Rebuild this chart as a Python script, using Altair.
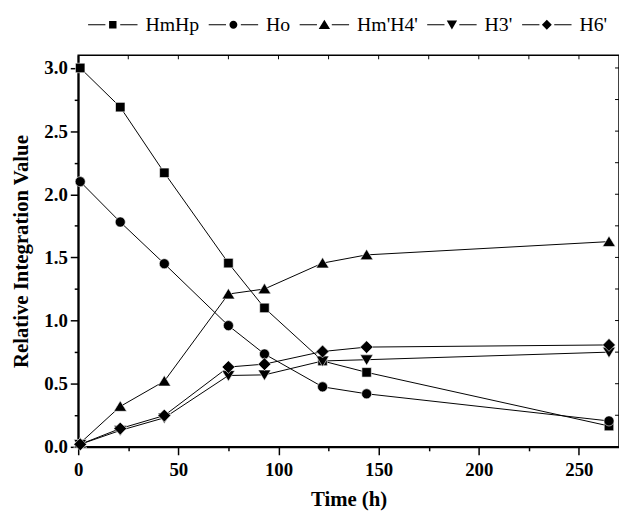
import altair as alt
import pandas as pd

# ---- data ----
times = [1, 21, 43, 75, 93, 122, 144, 265]
series_names = ["HmHp", "Ho", "Hm'H4'", "H3'", "H6'"]
hmhp = [3.00, 2.69, 2.17, 1.455, 1.10, 0.68, 0.59, 0.165]
ho = [2.10, 1.78, 1.45, 0.96, 0.735, 0.475, 0.42, 0.205]
hmh4 = [0.03, 0.32, 0.52, 1.21, 1.25, 1.455, 1.52, 1.625]
h3 = [0.02, 0.13, 0.23, 0.565, 0.57, 0.68, 0.69, 0.75]
h6 = [0.02, 0.145, 0.248, 0.632, 0.655, 0.755, 0.79, 0.807]

x_ticks = [0, 25, 50, 75, 100, 125, 150, 175, 200, 225, 250]
y_ticks = [0.0, 0.25, 0.5, 0.75, 1.0, 1.25, 1.5, 1.75, 2.0, 2.25, 2.5, 2.75, 3.0]

values = [hmhp, ho, hmh4, h3, h6]
rows = []
for name, vals in zip(series_names, values):
    for t, v in zip(times, vals):
        rows.append({"time": t, "value": v, "series": name})
df = pd.DataFrame(rows)

top_ticks = pd.DataFrame({"time": x_ticks[1:]})
right_ticks = pd.DataFrame({"value": y_ticks[1:]})

# marker shapes (unit space, scaled by sqrt(size)/2)
plot_shapes = [
    "M-0.8,-0.8H0.8V0.8H-0.8Z",
    "M-0.85,0A0.85,0.85,0,1,0,0.85,0A0.85,0.85,0,1,0,-0.85,0Z",
    "M0,-0.95L1.08,0.82L-1.08,0.82Z",
    "M0,0.95L1.08,-0.82L-1.08,-0.82Z",
    "M0,-1.08L1.08,0L0,1.08L-1.08,0Z",
]
# legend glyphs: a thin filled bar on each side of the marker
BARS = "M-5,-0.1H-1.5V0.1H-5ZM1.5,-0.1H5V0.1H1.5Z"
legend_shapes = [
    BARS + "M-0.75,-0.75H0.75V0.75H-0.75Z",
    BARS + "M-0.8,0A0.8,0.8,0,1,0,0.8,0A0.8,0.8,0,1,0,-0.8,0Z",
    BARS + "M0,-1.0L1.15,0.85L-1.15,0.85Z",
    BARS + "M0,0.95L1.05,-0.85L-1.05,-0.85Z",
    BARS + "M0,-1.0L1.0,0L0,1.0L-1.0,0Z",
]

FONT = "Liberation Serif"

x_axis = alt.Axis(
    values=x_ticks,
    labelExpr="datum.value % 50 == 0 ? datum.label : ''",
    tickSize={"condition": {"test": "datum.value % 50 == 0", "value": 8}, "value": 4},
    labelFlush=False,
    labelOverlap=False,
    labelPadding=6,
    title="Time (h)",
    titlePadding=9,
)
y_axis = alt.Axis(
    values=y_ticks,
    labelExpr="datum.value % 0.5 == 0 ? format(datum.value, '.1f') : ''",
    tickSize={"condition": {"test": "datum.value % 0.5 == 0", "value": 8}, "value": 4},
    labelFlush=False,
    labelOverlap=False,
    labelPadding=3,
    title="Relative Integration Value",
    titlePadding=13,
)
x_enc = alt.X("time:Q", scale=alt.Scale(domain=[0, 270], nice=False, zero=False), axis=x_axis)
y_enc = alt.Y("value:Q", scale=alt.Scale(domain=[0, 3.1], nice=False, zero=False), axis=y_axis)

lines = alt.Chart(df).mark_line(color="black", strokeWidth=1).encode(
    x=x_enc, y=y_enc, detail="series:N"
)

points = alt.Chart(df).mark_point(
    filled=True, color="black", opacity=1, size=144, stroke="white", strokeWidth=0.6
).encode(
    x=x_enc,
    y=y_enc,
    shape=alt.Shape("series:N", scale=alt.Scale(domain=series_names, range=plot_shapes), legend=None),
)

legend_layer = alt.Chart(df).mark_point(
    filled=True, fill="black", opacity=0
).encode(
    x=x_enc,
    y=y_enc,
    shape=alt.Shape(
        "series:N",
        scale=alt.Scale(domain=series_names, range=legend_shapes),
        legend=alt.Legend(
            orient="none",
            legendX=10,
            legendY=-41,
            direction="horizontal",
            title=None,
            padding=0,
            labelFont=FONT,
            labelFontSize=20,
            labelFontWeight="normal",
            labelColor="black",
            symbolSize=100,
            symbolOffset=15,
            labelOffset=23,
            columnPadding=9,
            symbolFillColor="black",
            symbolStrokeWidth=0,
            symbolOpacity=1,
        ),
    ),
)

top_rules = alt.Chart(top_ticks).mark_rule(color="black", strokeWidth=1).encode(
    x=x_enc, y=alt.value(0), y2=alt.value(4)
)
right_rules = alt.Chart(right_ticks).mark_rule(color="black", strokeWidth=1).encode(
    y=y_enc, x=alt.value(547), x2=alt.value(543)
)

chart = (
    alt.layer(lines, points, legend_layer, top_rules, right_rules)
    .resolve_scale(shape="independent")
    .properties(
        width=547,
        height=396,
        autosize=alt.AutoSizeParams(type="none"),
        padding={"left": 71, "top": 45, "right": 0, "bottom": 62},
        background="white",
    )
    .configure_view(stroke="black", strokeWidth=1.5)
    .configure_axis(
        grid=False,
        labelFont=FONT,
        labelFontSize=19,
        labelFontWeight="bold",
        labelColor="black",
        titleFont=FONT,
        titleFontSize=21,
        titleFontWeight="bold",
        titleColor="black",
        domainColor="black",
        domainWidth=2,
        tickColor="black",
        tickWidth=1.5,
    )
)

chart.save("out.html", embed_options={"renderer": "svg", "actions": False})
